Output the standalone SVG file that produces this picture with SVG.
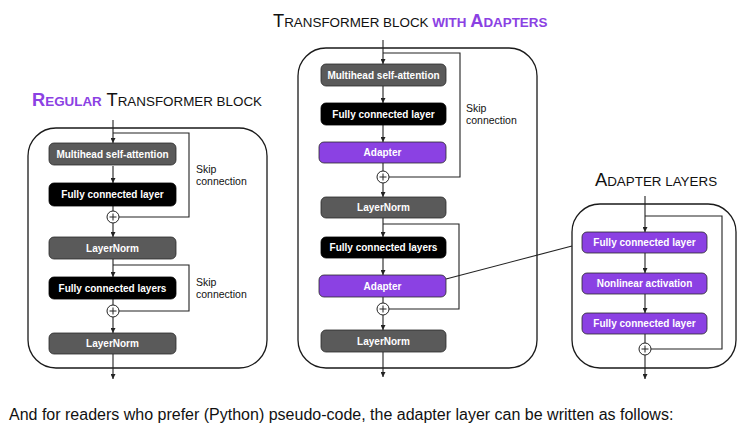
<svg xmlns="http://www.w3.org/2000/svg" width="751" height="431" viewBox="0 0 751 431">
<style>
.panel{fill:none;stroke:#1a1a1a;stroke-width:1.3}
.gray{fill:#5a5a5a;stroke:#2a2a2a;stroke-width:0.8}
.black{fill:#000;stroke:#000;stroke-width:0.8}
.purple{fill:#8b41e3;stroke:#2a2a2a;stroke-width:0.8}
.lbl{font-family:"Liberation Sans",Arial,sans-serif;font-size:10px;font-weight:bold;fill:#fff;text-anchor:middle}
.skip{font-family:"Liberation Sans",Arial,sans-serif;font-size:10.5px;fill:#111}
.title{font-family:"Liberation Sans",Arial,sans-serif;fill:#111}
.ln{fill:none;stroke:#222;stroke-width:1.1}
.arr{fill:none;stroke:#222;stroke-width:1.1;marker-end:url(#ah)}
.plus{fill:#fff;stroke:#222;stroke-width:1}
.pl{stroke:#222;stroke-width:1;fill:none}
</style>
<defs>
<marker id="ah" viewBox="0 0 8 8" refX="8" refY="4" markerWidth="5" markerHeight="5" orient="auto" markerUnits="userSpaceOnUse">
<path d="M0,0 L8,4 L0,8 z" fill="#222"/>
</marker>
</defs>
<rect width="751" height="431" fill="#fff"/>

<!-- Titles -->
<text class="title" x="32" y="106" font-size="18.3"><tspan fill="#8b41e3" font-weight="bold">R</tspan><tspan fill="#8b41e3" font-weight="bold" font-size="13.4">EGULAR</tspan><tspan> T</tspan><tspan font-size="13.4">RANSFORMER BLOCK</tspan></text>
<text class="title" x="273" y="27" font-size="18.3">T<tspan font-size="13.4">RANSFORMER BLOCK </tspan><tspan fill="#8b41e3" font-weight="bold" font-size="13.4">WITH </tspan><tspan fill="#8b41e3" font-weight="bold">A</tspan><tspan fill="#8b41e3" font-weight="bold" font-size="13.4">DAPTERS</tspan></text>
<text class="title" x="595" y="186" font-size="18.3">A<tspan font-size="13.4">DAPTER LAYERS</tspan></text>

<!-- Panels -->
<rect class="panel" x="28" y="128" width="239" height="240" rx="28"/>
<rect class="panel" x="298" y="48" width="239" height="320" rx="28"/>
<rect class="panel" x="572" y="204" width="164" height="164" rx="28"/>

<!-- Connectors -->
<g id="connectors">
<!-- left -->
<path class="arr" d="M113,120 V143"/>
<path class="ln" d="M113,133 H189 V217 H119"/>
<path class="arr" d="M113,166 V183"/>
<path class="ln" d="M113,206 V211"/>
<path class="arr" d="M113,223 V237"/>
<path class="arr" d="M113,259 V277"/>
<path class="ln" d="M113,265 H189 V311 H119"/>
<path class="ln" d="M113,299 V305"/>
<path class="arr" d="M113,317 V333"/>
<path class="arr" d="M113,354 V379"/>
<!-- middle -->
<path class="arr" d="M383,40 V64"/>
<path class="ln" d="M383,53 H460 V177 H389"/>
<path class="arr" d="M383,86 V103"/>
<path class="arr" d="M383,125 V142"/>
<path class="ln" d="M383,163 V171"/>
<path class="arr" d="M383,183 V197"/>
<path class="arr" d="M383,218 V237"/>
<path class="ln" d="M383,224 H459 V309 H389"/>
<path class="arr" d="M383,258 V275"/>
<path class="ln" d="M383,297 V303"/>
<path class="arr" d="M383,315 V330"/>
<path class="arr" d="M383,352 V377"/>
<!-- right -->
<path class="arr" d="M645,196 V232"/>
<path class="ln" d="M645,216 H722 V349 H651"/>
<path class="arr" d="M645,253 V273"/>
<path class="arr" d="M645,294 V313"/>
<path class="ln" d="M645,334 V343"/>
<path class="arr" d="M645,355 V379"/>
<!-- link -->
<path class="ln" d="M446,279 L572,246"/>
</g>

<!-- plus nodes -->
<g id="plus-l1"><circle class="plus" cx="113" cy="217" r="6"/><path class="pl" d="M109.5,217 H116.5 M113,213.5 V220.5"/></g>
<g id="plus-l2"><circle class="plus" cx="113" cy="311" r="6"/><path class="pl" d="M109.5,311 H116.5 M113,307.5 V314.5"/></g>
<g id="plus-m1"><circle class="plus" cx="383" cy="177" r="6"/><path class="pl" d="M379.5,177 H386.5 M383,173.5 V180.5"/></g>
<g id="plus-m2"><circle class="plus" cx="383" cy="309" r="6"/><path class="pl" d="M379.5,309 H386.5 M383,305.5 V312.5"/></g>
<g id="plus-r1"><circle class="plus" cx="645" cy="349" r="6"/><path class="pl" d="M641.5,349 H648.5 M645,345.5 V352.5"/></g>

<!-- left nodes -->
<g id="l-mhsa"><rect class="gray" x="49" y="143" width="127" height="22" rx="5"/><text class="lbl" x="112.5" y="157.5">Multihead self-attention</text></g>
<g id="l-fc"><rect class="black" x="49" y="183" width="127" height="23" rx="5"/><text class="lbl" x="112.5" y="198">Fully connected layer</text></g>
<g id="l-ln1"><rect class="gray" x="49" y="237" width="127" height="22" rx="5"/><text class="lbl" x="112.5" y="251.5">LayerNorm</text></g>
<g id="l-fcs"><rect class="black" x="49" y="277" width="127" height="22" rx="5"/><text class="lbl" x="112.5" y="291.5">Fully connected layers</text></g>
<g id="l-ln2"><rect class="gray" x="49" y="333" width="127" height="21" rx="5"/><text class="lbl" x="112.5" y="347">LayerNorm</text></g>
<g id="l-skip1"><text class="skip" x="196" y="173">Skip</text><text class="skip" x="196" y="185">connection</text></g>
<g id="l-skip2"><text class="skip" x="196" y="286">Skip</text><text class="skip" x="196" y="298">connection</text></g>

<!-- middle nodes -->
<g id="m-mhsa"><rect class="gray" x="321" y="64" width="125" height="22" rx="5"/><text class="lbl" x="383.5" y="78.5">Multihead self-attention</text></g>
<g id="m-fc"><rect class="black" x="321" y="103" width="125" height="22" rx="5"/><text class="lbl" x="383.5" y="117.5">Fully connected layer</text></g>
<g id="m-ad1"><rect class="purple" x="319" y="142" width="127" height="21" rx="5"/><text class="lbl" x="382.5" y="156">Adapter</text></g>
<g id="m-ln1"><rect class="gray" x="321" y="197" width="125" height="21" rx="5"/><text class="lbl" x="383.5" y="211">LayerNorm</text></g>
<g id="m-fcs"><rect class="black" x="321" y="237" width="125" height="21" rx="5"/><text class="lbl" x="383.5" y="251">Fully connected layers</text></g>
<g id="m-ad2"><rect class="purple" x="319" y="275" width="127" height="22" rx="5"/><text class="lbl" x="382.5" y="289.5">Adapter</text></g>
<g id="m-ln2"><rect class="gray" x="321" y="330" width="125" height="22" rx="5"/><text class="lbl" x="383.5" y="344.5">LayerNorm</text></g>
<g id="m-skip"><text class="skip" x="466" y="112">Skip</text><text class="skip" x="466" y="124">connection</text></g>

<!-- right nodes -->
<g id="r-fc1"><rect class="purple" x="582" y="232" width="125" height="21" rx="5"/><text class="lbl" x="644.5" y="246">Fully connected layer</text></g>
<g id="r-nl"><rect class="purple" x="582" y="273" width="125" height="21" rx="5"/><text class="lbl" x="644.5" y="287">Nonlinear activation</text></g>
<g id="r-fc2"><rect class="purple" x="582" y="313" width="125" height="21" rx="5"/><text class="lbl" x="644.5" y="327">Fully connected layer</text></g>

<!-- bottom text -->
<text x="9" y="420" font-family="'Liberation Sans',Arial,sans-serif" font-size="16" fill="#111">And for readers who prefer (Python) pseudo-code, the adapter layer can be written as follows:</text>
</svg>
